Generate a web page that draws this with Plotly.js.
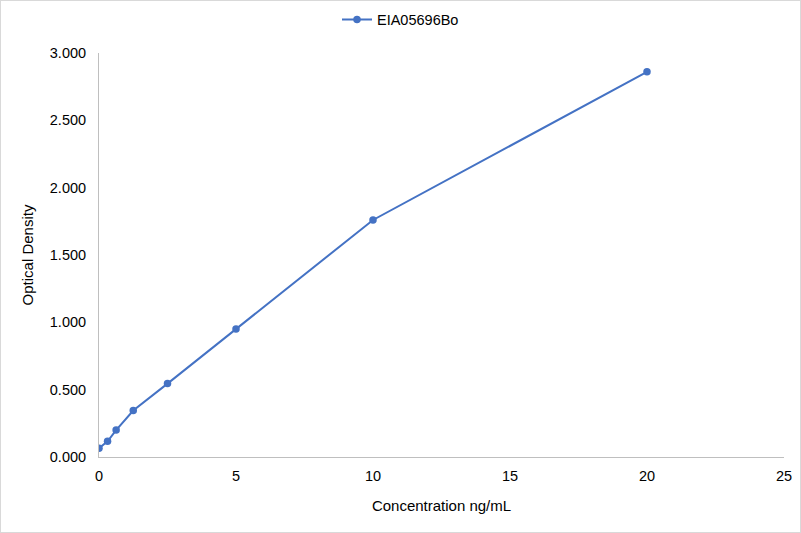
<!DOCTYPE html>
<html><head><meta charset="utf-8">
<script src="https://cdn.plot.ly/plotly-3.0.1.min.js"></script>
<style>html,body{margin:0;padding:0;background:#fff}#c{width:801px;height:533px;box-sizing:border-box;border:1px solid #d9d9d9}</style>
</head><body><div id="c"></div>
<script>
const seriesName = "EIA05696Bo";
const concentration = [0, 0.3125, 0.625, 1.25, 2.5, 5, 10, 20];
const opticalDensity = [0.065, 0.117, 0.200, 0.345, 0.545, 0.950, 1.760, 2.860];
const yTickVals = [0, 0.5, 1, 1.5, 2, 2.5, 3];
const yTickText = ["0.000","0.500","1.000","1.500","2.000","2.500","3.000"];
const xTickVals = [0, 5, 10, 15, 20, 25];

Plotly.newPlot('c', [{
  x: concentration, y: opticalDensity, name: seriesName,
  type: 'scatter', mode: 'lines+markers',
  line: {color: '#4472C4', width: 2},
  marker: {color: '#4472C4', size: 7.5},
  showlegend: true
}], {
  width: 799, height: 531,
  margin: {l: 98, r: 16, t: 52, b: 75},
  paper_bgcolor: '#fff', plot_bgcolor: '#fff',
  font: {family: 'Arial, Liberation Sans, sans-serif', size: 14, color: '#000'},
  showlegend: true,
  legend: {orientation: 'h', xref: 'container', x: 0.5, xanchor: 'center', yref: 'container', y: 0.995, yanchor: 'top', font: {size: 14.5, color: '#000'}},
  xaxis: {
    range: [0, 25], tickvals: xTickVals, showgrid: false, zeroline: false,
    showline: true, linecolor: '#bfbfbf', linewidth: 1, ticks: '',
    ticklabelstandoff: 6,
    title: {text: 'Concentration ng/mL', font: {size: 15}, standoff: 17},
    tickfont: {size: 14.5}
  },
  yaxis: {
    range: [0, 3], tickvals: yTickVals, ticktext: yTickText, showgrid: false, zeroline: false,
    showline: true, linecolor: '#bfbfbf', linewidth: 1, ticks: '',
    ticklabelstandoff: 9,
    title: {text: 'Optical Density', font: {size: 15}, standoff: 12},
    tickfont: {size: 14.5}
  }
}, {displayModeBar: false});
</script></body></html>
